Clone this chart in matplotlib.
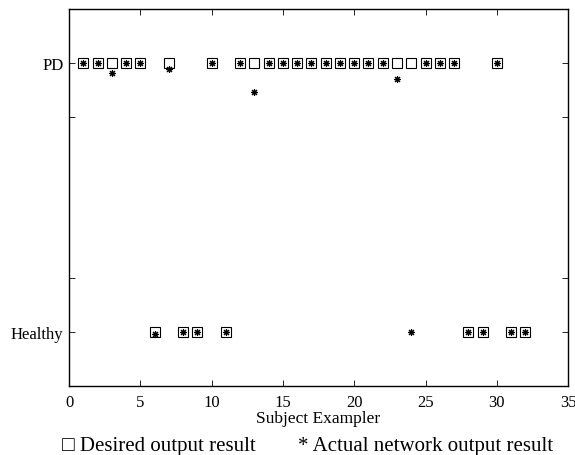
import matplotlib
matplotlib.use("Agg")
import matplotlib.pyplot as plt

# Subject index, desired class (1 = PD, 0 = Healthy) and network output
subjects = list(range(1, 33))
desired = [1, 1, 1, 1, 1, 0, 1, 0, 0, 1, 0, 1, 1, 1, 1, 1,
           1, 1, 1, 1, 1, 1, 1, 1, 1, 1, 1, 0, 0, 1, 0, 0]
actual = [1, 1, 0.962, 1, 1, -0.007, 0.977, 0, 0, 1, 0, 1, 0.893, 1, 1, 1,
          1, 1, 1, 1, 1, 1, 0.94, 0.0, 1, 1, 1, 0, 0, 1, 0, 0]

y_ticks = [0, 0.2, 0.8, 1]
y_labels = ["Healthy", "", "", "PD"]
x_ticks = [0, 5, 10, 15, 20, 25, 30, 35]

serif = ["Liberation Serif", "DejaVu Serif"]
plt.rcParams["font.family"] = serif

fig = plt.figure(figsize=(5.75, 4.56), dpi=100)
ax = fig.add_axes([0.12, 0.151, 0.868, 0.827])

ax.plot(subjects, desired, linestyle="none", marker="s", markersize=7,
        markerfacecolor="none", markeredgecolor="black", markeredgewidth=0.8)
ax.plot(subjects, actual, linestyle="none", marker=(8, 2, 0), markersize=5,
        markeredgecolor="black", markeredgewidth=0.8)

ax.set_xlim(0, 35)
ax.set_ylim(-0.2, 1.2)
ax.set_xticks(x_ticks)
ax.set_yticks(y_ticks)
ax.set_yticklabels(y_labels)
ax.tick_params(direction="in", length=4, width=0.6, labelsize=12,
               top=True, right=True)
ax.tick_params(axis="x", pad=6)
ax.tick_params(axis="y", pad=4)
for sp in ax.spines.values():
    sp.set_linewidth(1.0)

ax.set_xlabel("Subject Exampler", fontsize=12.5, labelpad=0)

fig.text(0.108, 0.012, "\u25a1 Desired output result", fontsize=15,
         family=serif, va="baseline")
fig.text(0.518, 0.012, "* Actual network output result", fontsize=15,
         family=serif, va="baseline")

fig.savefig("out.png", dpi=100)
